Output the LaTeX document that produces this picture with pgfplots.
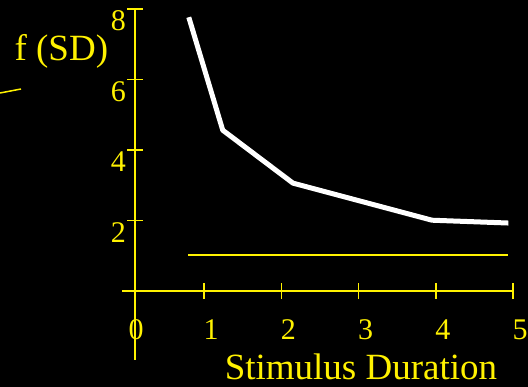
\documentclass[border=0pt]{standalone}
\usepackage{pgfplots}
\pgfplotsset{compat=1.18}
\usepackage{fontspec}
\setmainfont{Liberation Serif}
\begin{document}
\begin{tikzpicture}
\fill[black] (0,0) rectangle (528pt,387pt);
\useasboundingbox (0,0) rectangle (528pt,387pt);
\draw[yellow, line width=1.5pt] (0pt,294pt) -- (21pt,298pt);
\begin{axis}[
  at={(122pt,27pt)}, anchor=south west,
  scale only axis, x=77.2pt, y=35.3pt,
  xmin=-0.065, xmax=5.0, ymin=-1.95, ymax=8.02,
  axis lines=middle,
  axis line style={-, yellow, line width=1.5pt},
  y axis line style={xshift=8pt},
  xtick={0,1,2,3,4,5}, ytick={2,4,6,8},
  xtick align=center, ytick align=inside, major tick length=16pt,
  tick style={yellow, line width=1.5pt},
  /pgf/number format/assume math mode=true,
  ticklabel style={font=\fontsize{30}{36}\selectfont, text=yellow, inner sep=0pt},
  yticklabel style={anchor=base east, xshift=-1pt, yshift=-22pt},
  xticklabel style={anchor=base, xshift=7pt, yshift=-40pt},
  clip=false,
]
\addplot[white, line width=5pt, line join=round] coordinates {
  (0.80,7.76) (1.24,4.56) (2.15,3.06) (3.95,2.01) (4.94,1.93)
};
\addplot[yellow, line width=2pt] coordinates {(0.79,1.02) (4.94,1.02)};
\node[text=yellow, font=\fontsize{30}{36}\selectfont, inner sep=0pt, anchor=base, xshift=9pt, yshift=-48pt] at (axis cs:0,0) {0};
\node[text=yellow, font=\fontsize{37}{44}\selectfont, anchor=base] at (axis cs:3.03,-2.49) {Stimulus Duration};
\node[text=yellow, font=\fontsize{37}{44}\selectfont, anchor=base] at (axis cs:-0.85,6.54) {f (SD)};
\end{axis}
\end{tikzpicture}
\end{document}
